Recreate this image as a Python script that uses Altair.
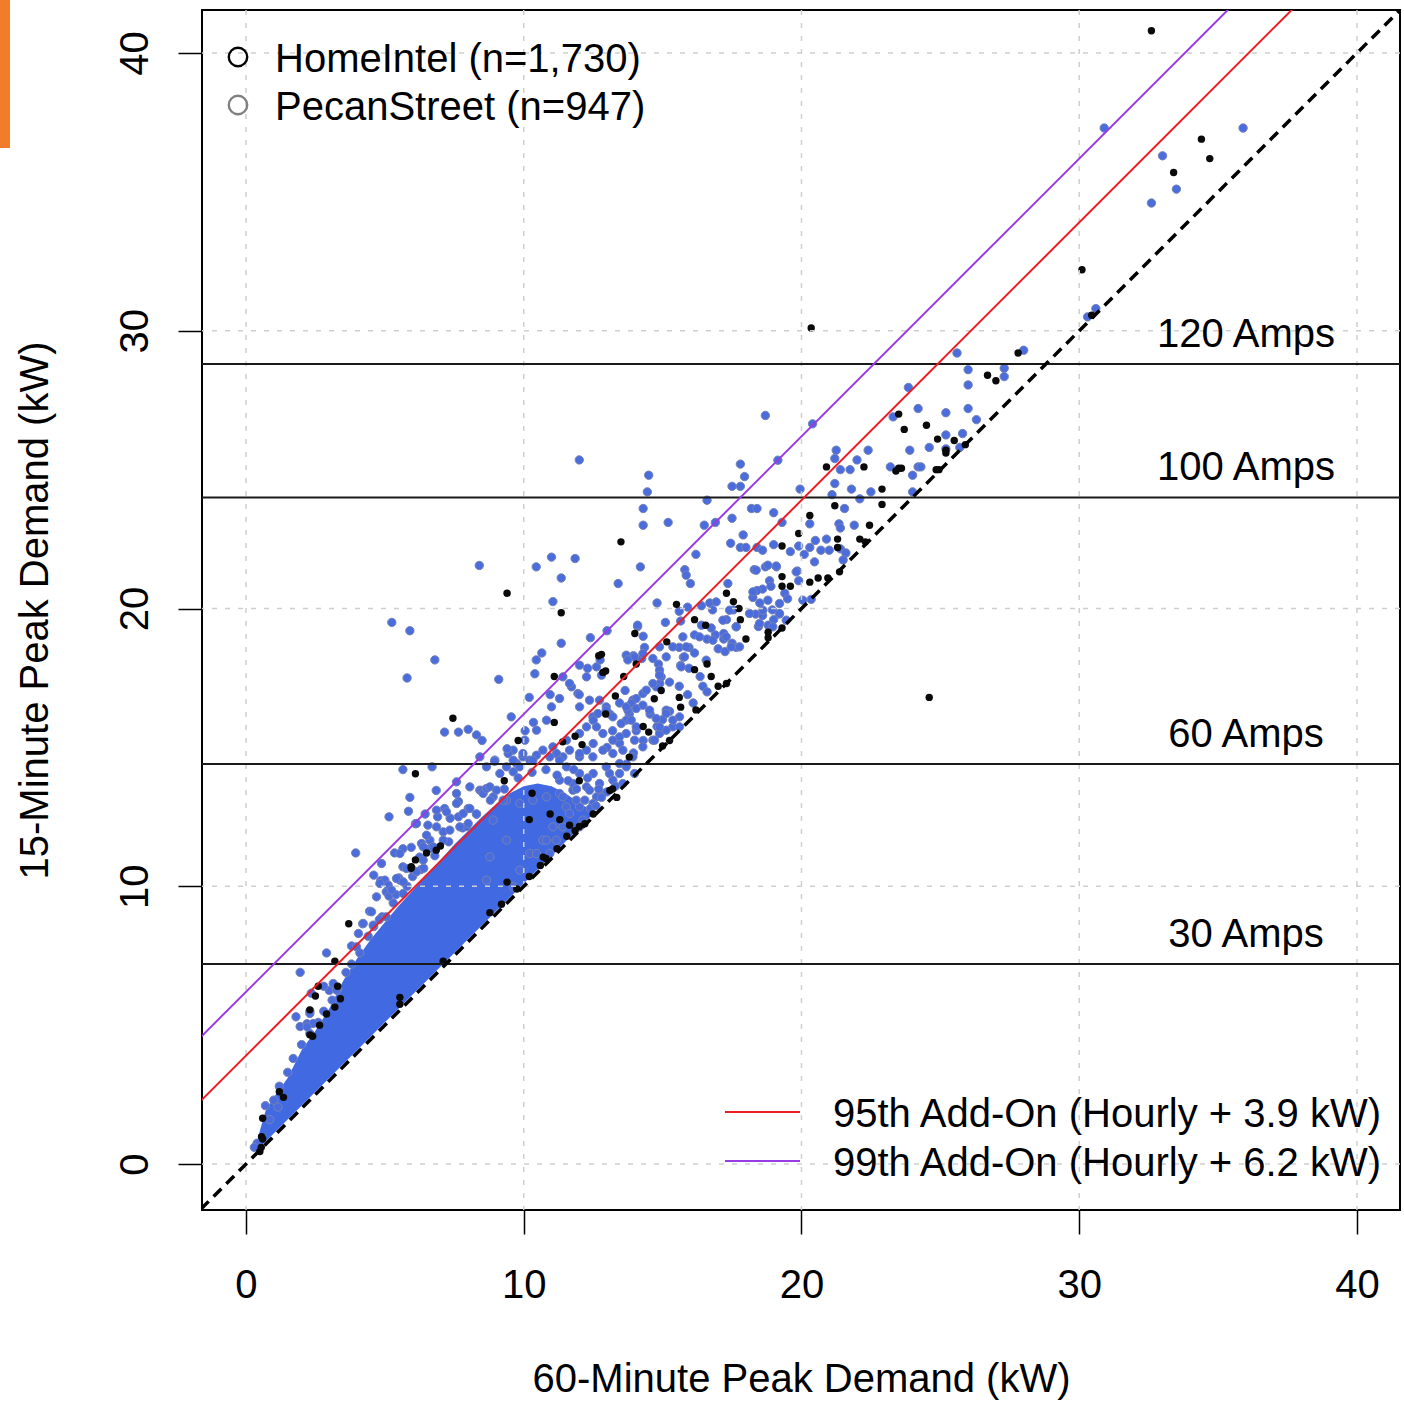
import altair as alt
import pandas as pd

# ---------------- data ----------------
x_ticks = [0, 10, 20, 30, 40]
y_ticks = [0, 10, 20, 30, 40]

amp_ratings = [30, 60, 100, 120]
amp_labels = ["30 Amps", "60 Amps", "100 Amps", "120 Amps"]
volts = 240

add_on_offsets = [0.0, 3.9, 6.2]
line_x_ends = [-3.0, 45.0]

legend_points = ["HomeIntel (n=1,730)", "PecanStreet (n=947)"]
legend_point_colors = ["#000000", "#808080"]
legend_lines = ["95th Add-On (Hourly + 3.9 kW)", "99th Add-On (Hourly + 6.2 kW)"]
legend_line_colors = ["#ee1c25", "#9a3be4"]

# dense core of the point cloud (solid blue band): x, upper edge, lower edge
core_x = [0.35, 0.5, 0.7, 1.0, 1.5, 2.0, 2.5, 3.0, 3.5, 4.0, 4.5, 5.0, 5.5, 6.0, 6.5,
          7.0, 7.5, 8.0, 8.5, 9.0, 9.5, 10.0, 10.5, 11.0, 11.5, 12.0, 12.5]
core_hi = [0.55, 1.2, 1.9, 2.4, 3.1, 4.1, 4.8, 5.6, 6.6, 7.4, 8.1, 8.7, 9.3, 9.85, 10.4,
           10.95, 11.5, 12.0, 12.5, 12.95, 13.35, 13.6, 13.7, 13.6, 13.35, 13.0, 12.7]
core_lo = [0.45, 0.6, 0.8, 1.1, 1.6, 2.1, 2.6, 3.1, 3.6, 4.1, 4.6, 5.1, 5.6, 6.1, 6.6,
           7.1, 7.6, 8.1, 8.6, 9.1, 9.6, 10.1, 10.6, 11.1, 11.6, 12.1, 12.6]

# PecanStreet-coloured (blue) points, (60-min kW, 15-min kW)
pecan_upper = [(30.9, 37.3), (35.9, 37.3), (33.0, 36.3), (33.5, 35.1), (32.6, 34.6), (30.3, 30.5),
               (30.6, 30.8), (25.6, 29.2), (28.0, 29.3), (26.0, 28.6), (27.3, 28.65), (27.3, 28.35),
               (26.0, 28.05), (23.85, 27.96), (24.2, 27.2), (25.2, 27.05), (26.0, 27.2), (26.3, 26.8),
               (25.2, 26.25), (25.8, 26.3), (25.2, 25.75), (25.7, 25.8), (23.9, 25.7), (24.6, 25.8),
               (24.2, 25.1), (24.0, 24.8), (23.3, 26.9), (23.2, 25.1), (24.0, 24.2), (24.3, 25.1),
               (20.4, 26.65), (19.15, 25.34), (18.7, 26.95)]
pecan_mid = [(14.5, 24.8), (14.45, 24.2), (14.3, 23.6), (14.3, 23.0), (15.2, 23.1), (14.2, 21.5),
             (13.4, 20.9), (17.8, 25.2), (17.95, 24.75), (17.5, 24.4), (17.8, 24.4), (16.6, 23.9),
             (16.5, 23.0), (16.9, 23.1), (17.5, 23.25), (18.2, 23.6), (18.4, 23.6), (19.0, 23.45),
             (19.3, 23.1), (17.9, 22.65), (19.95, 24.3), (16.2, 21.95), (15.8, 21.4), (15.85, 21.2),
             (16.0, 20.9), (14.8, 20.2), (17.45, 22.35), (17.8, 22.2), (18.0, 22.2), (18.4, 22.2),
             (18.6, 22.1), (19.0, 22.3), (19.6, 22.05), (19.9, 22.25), (20.1, 21.95), (20.3, 22.2),
             (20.5, 22.45), (20.9, 22.5), (20.7, 22.1), (21.0, 22.1), (21.4, 22.15), (20.3, 23.05),
             (21.25, 25.7), (21.2, 25.4), (22.0, 25.35), (21.75, 25.0), (21.4, 25.0), (22.4, 25.7),
             (21.2, 24.5), (21.8, 24.3), (21.1, 24.1), (22.5, 24.2), (22.1, 23.95), (21.55, 23.6),
             (21.35, 23.05), (21.4, 22.9), (21.9, 23.0), (21.6, 22.0), (21.5, 21.75), (20.35, 20.33)]
pecan_band = [(18.3, 21.4), (18.7, 21.5), (19.1, 21.5), (19.85, 21.35), (19.9, 21.0), (18.85, 21.0),
              (18.6, 20.7), (18.4, 20.65), (18.25, 20.4), (18.9, 20.8), (19.4, 20.55), (19.5, 20.35),
              (17.35, 20.9), (18.5, 20.2), (18.35, 19.8), (18.6, 19.75), (18.95, 19.95), (19.2, 19.8),
              (19.0, 19.6), (18.8, 19.4), (18.45, 19.35), (17.55, 19.95), (17.65, 19.35), (17.3, 19.6),
              (17.2, 19.1), (17.5, 18.75), (17.65, 18.6), (16.7, 20.2), (16.4, 20.1), (16.8, 19.95),
              (15.1, 19.5), (15.65, 19.55), (15.6, 19.9), (15.9, 20.05), (16.4, 19.4), (16.75, 19.3),
              (16.15, 19.05), (16.6, 18.9), (16.9, 19.05), (17.2, 18.9), (17.0, 18.55), (17.25, 18.45),
              (14.1, 19.35), (14.3, 19.0), (14.35, 18.6), (13.95, 18.3), (14.25, 18.2), (14.85, 18.0),
              (14.9, 17.6), (15.6, 18.6), (15.75, 18.25), (15.65, 17.95), (15.95, 18.6), (16.15, 18.4),
              (15.95, 17.85), (16.35, 17.55), (16.45, 17.2), (16.6, 17.0), (14.9, 17.3), (15.25, 17.35),
              (15.6, 17.2), (15.9, 16.9), (16.1, 16.6), (15.25, 16.3), (15.0, 16.0), (14.55, 16.2),
              (14.8, 15.75), (13.95, 16.7), (13.65, 17.05), (13.45, 16.6), (13.1, 16.2), (13.2, 15.6),
              (13.8, 16.2), (14.05, 15.6), (13.45, 15.15), (13.95, 14.8), (13.0, 15.0), (14.3, 15.25),
              (13.7, 14.4)]
pecan_band2 = [(18.37, 21.38), (18.79, 21.56), (19.09, 21.53), (19.81, 21.32), (20.47, 21.68),
               (18.25, 20.6), (18.79, 20.3), (19.21, 20.18), (18.61, 19.94), (18.13, 19.82), (18.49, 19.46),
               (18.97, 19.34), (19.21, 19.82), (19.45, 19.58), (20.05, 20.3), (16.93, 20.24), (17.17, 19.58),
               (17.41, 19.94), (17.29, 18.98), (17.47, 18.62), (17.77, 18.62), (17.65, 19.34), (16.81, 18.86),
               (16.57, 18.14), (16.33, 18.98), (15.73, 18.98), (15.85, 18.62), (15.37, 18.62), (15.79, 18.26),
               (15.67, 17.9), (14.89, 17.78), (14.77, 17.18), (14.95, 17.54), (14.29, 16.94), (13.93, 16.7),
               (13.75, 16.34), (13.69, 15.98), (13.21, 16.1), (12.97, 16.46), (12.73, 16.7), (12.49, 16.1),
               (12.26, 15.74), (12.01, 15.5), (15.13, 16.34), (15.61, 16.1), (15.37, 15.74), (14.89, 15.5),
               (14.65, 15.26), (14.29, 15.02), (13.93, 14.66), (13.45, 14.42), (13.09, 14.06), (12.49, 14.66)]
pecan_band3 = [(13.69, 18.32), (13.99, 18.26), (14.29, 18.38), (14.65, 18.2), (14.89, 18.62), (15.13, 18.26),
               (14.89, 17.6), (14.65, 17.3), (14.41, 17.06), (14.05, 16.76), (13.87, 16.58), (13.69, 16.46),
               (14.05, 16.4), (14.29, 16.52), (14.53, 16.34), (14.77, 16.04), (15.13, 16.22), (15.37, 15.98),
               (15.61, 15.74), (15.13, 15.62), (14.89, 15.74), (14.71, 15.26), (13.99, 15.26), (13.69, 15.5),
               (13.45, 15.38), (13.21, 15.26), (12.85, 15.5), (12.62, 15.74), (12.5, 15.98), (12.67, 16.22),
               (12.97, 16.34), (13.51, 15.86), (13.87, 15.98), (14.05, 15.74), (13.57, 14.9), (13.21, 14.78),
               (12.85, 14.9), (12.5, 15.14), (12.26, 14.9), (12.01, 14.66), (11.65, 14.9), (11.41, 14.66),
               (11.18, 14.78), (10.94, 14.66), (10.69, 14.9), (10.46, 14.72), (10.22, 14.54), (9.97, 14.66),
               (9.74, 14.42), (9.62, 14.12), (12.01, 16.46), (12.37, 16.7), (11.72, 17.18), (11.95, 16.94),
               (12.26, 17.54), (12.62, 17.9), (12.01, 17.96), (11.41, 17.54), (11.29, 16.76), (11.0, 16.46),
               (10.82, 15.98), (10.46, 15.62), (10.04, 15.26), (9.62, 14.9), (9.44, 14.78), (8.96, 14.54),
               (8.66, 14.3), (8.42, 13.46), (8.9, 13.22), (9.38, 13.1), (9.86, 12.98), (10.33, 13.1),
               (10.82, 13.22), (11.29, 13.34), (11.77, 13.46), (12.26, 13.58), (12.73, 13.7), (13.21, 13.82),
               (12.62, 13.22), (12.01, 12.86), (11.53, 12.86), (11.05, 12.14), (10.69, 11.66), (10.22, 11.18),
               (9.86, 10.58), (9.62, 9.98), (8.9, 12.38), (9.38, 11.66), (8.78, 11.06), (8.66, 10.22)]
pecan_band4 = [(11.54, 14.3), (12.01, 14.06), (12.5, 14.06), (12.97, 14.3), (13.45, 14.06), (11.29, 13.82),
               (11.77, 13.7), (12.37, 13.46), (12.85, 13.34), (13.57, 13.7), (11.41, 13.22), (11.89, 13.1),
               (12.5, 12.98), (11.65, 12.62), (12.13, 12.38), (11.41, 12.14), (11.17, 11.66), (10.94, 11.18),
               (13.69, 14.3), (13.99, 14.06), (12.01, 12.14), (10.82, 11.66), (10.46, 11.18)]
# points sitting on the ragged edge of the dense core
pecan_edge = [(1.5, 3.3), (2.0, 4.3), (2.6, 5.1), (3.1, 5.9), (3.6, 6.9), (4.1, 7.6), (4.4, 8.2),
              (4.9, 8.9), (5.3, 9.4), (5.8, 10.0), (6.3, 10.6), (6.8, 11.1), (7.3, 11.6), (7.8, 12.1),
              (8.3, 12.6), (8.8, 13.1), (9.3, 13.5), (9.8, 13.9), (10.3, 14.1), (10.8, 14.2),
              (11.2, 14.0), (11.6, 13.8), (11.9, 13.5), (12.2, 13.1), (12.4, 12.8), (12.6, 12.9),
              (12.8, 13.2), (11.8, 14.2), (12.3, 13.9), (12.7, 13.5), (13.0, 13.4), (13.3, 13.6),
              (1.2, 2.8), (1.7, 3.8), (2.3, 4.7), (2.8, 5.5), (3.3, 6.3), (3.8, 7.2)]
pecan_left = [(12.0, 25.35), (8.4, 21.55), (10.45, 21.5), (11.0, 21.85), (11.85, 21.8), (11.35, 21.1),
              (11.05, 20.25), (5.25, 19.5), (5.9, 19.2), (6.8, 18.15), (5.8, 17.5), (9.1, 17.45),
              (11.35, 18.75), (10.65, 18.4), (10.45, 18.15), (10.4, 17.65), (10.2, 16.8), (10.95, 16.9),
              (9.55, 16.1), (7.15, 15.55), (7.65, 15.55), (8.0, 15.65), (8.3, 15.45), (12.4, 18.95),
              (13.0, 19.2), (11.65, 17.3), (12.0, 16.9), (12.3, 17.85), (12.75, 18.15), (12.8, 17.6),
              (13.75, 18.15), (14.1, 19.4), (10.35, 15.9), (10.05, 15.6), (9.4, 14.95), (8.95, 14.5),
              (8.5, 13.45), (8.0, 12.8), (7.65, 12.5), (7.15, 12.8), (5.9, 13.2), (5.65, 14.2),
              (5.15, 12.5), (6.1, 12.25), (6.45, 12.6), (6.85, 13.45), (8.5, 15.25)]
pecan_low = [(5.85, 12.7), (6.7, 14.3), (6.55, 12.2), (7.65, 13.05), (8.3, 12.6), (6.9, 12.5),
             (7.35, 12.45), (7.95, 12.15), (3.95, 11.2), (4.6, 10.4), (4.85, 10.2), (5.05, 9.8),
             (5.15, 9.65), (5.4, 9.7), (5.65, 10.7), (5.35, 11.2), (5.65, 11.35), (5.95, 11.4),
             (6.25, 11.05), (6.4, 10.65), (5.5, 10.3), (6.0, 10.35), (4.45, 9.1), (4.05, 8.3),
             (4.6, 8.55), (5.05, 8.9), (4.8, 8.8), (3.8, 7.85), (2.9, 7.6), (4.2, 8.65), (1.95, 6.9),
             (3.0, 6.25), (2.8, 6.4), (2.35, 6.15), (2.3, 5.5), (1.8, 5.3), (1.95, 4.95), (2.2, 5.05),
             (0.7, 2.1), (0.85, 1.6), (0.4, 0.75), (0.3, 0.6), (1.15, 2.05), (1.0, 2.3)]
pecan_redline = [(6.62, 11.66), (7.1, 11.96), (7.82, 12.62), (8.54, 13.34), (8.66, 13.52), (9.14, 14.06),
                 (9.38, 14.3), (7.58, 12.98), (8.06, 12.8), (7.22, 12.68), (6.86, 12.14), (6.5, 11.84),
                 (6.32, 11.54), (4.7, 9.62), (6.62, 11.36), (5.0, 10.22), (5.54, 10.22), (6.02, 10.58),
                 (6.38, 11.42), (6.74, 11.42), (7.1, 11.66), (6.38, 10.94), (7.34, 12.02), (7.7, 12.14),
                 (8.0, 12.26), (7.58, 13.34), (8.06, 13.58), (8.78, 13.58), (9.02, 13.46), (9.26, 13.1),
                 (9.62, 14.54), (9.97, 14.78), (9.85, 14.3), (10.33, 14.54), (11.05, 15.02), (11.29, 14.54),
                 (11.54, 15.26), (12.01, 14.78), (5.66, 9.74), (8.42, 14.66), (7.58, 13.76), (6.86, 12.74),
                 (6.14, 12.26), (5.12, 10.04), (4.52, 9.08), (4.82, 10.1), (5.24, 9.86), (5.42, 10.28),
                 (5.78, 10.64), (5.66, 10.16), (6.14, 10.52), (4.22, 8.66), (3.98, 7.82), (4.58, 8.6),
                 (4.88, 10.82), (5.54, 11.18), (3.14, 6.5), (3.26, 6.26), (2.3, 5.42), (2.42, 5.06),
                 (2.2, 4.94)]

# HomeIntel (black) points
homeintel_upper = [(32.6, 40.8), (34.4, 36.9), (34.7, 36.2), (33.4, 35.7), (30.1, 32.2), (30.45, 30.56),
                   (27.8, 29.2), (26.7, 28.4), (27.0, 28.2), (23.5, 27.0), (24.5, 26.6), (23.7, 26.45),
                   (24.9, 26.1), (25.5, 26.05), (25.2, 25.6), (25.9, 25.9), (24.85, 25.0), (23.5, 25.05),
                   (20.35, 30.1), (24.6, 16.8), (13.5, 22.4), (19.3, 22.25), (19.9, 22.7), (20.3, 23.35),
                   (20.9, 25.1), (22.25, 25.1), (21.2, 23.7), (21.3, 22.5), (21.3, 22.2), (22.9, 24.3),
                   (22.9, 23.75), (22.45, 23.0), (22.1, 22.5), (22.3, 22.4), (23.4, 24.95), (23.6, 25.05),
                   (24.95, 25.0), (25.2, 25.7), (21.37, 21.32)]
homeintel_mid = [(19.3, 20.8), (19.6, 20.8), (20.3, 20.95), (20.6, 21.1), (20.95, 21.1), (17.3, 20.55),
                 (17.55, 20.25), (17.75, 20.0), (17.8, 19.6), (18.0, 18.9), (18.8, 18.95), (18.8, 19.15),
                 (19.3, 19.3), (15.5, 20.15), (16.15, 19.6), (16.55, 19.4), (14.0, 19.1), (15.15, 18.8),
                 (16.15, 17.8), (16.6, 18.0), (16.75, 17.55), (17.0, 17.2), (17.3, 17.3), (14.7, 16.75),
                 (15.6, 16.8), (16.2, 16.35), (14.3, 15.75), (15.25, 15.25), (14.5, 15.55), (12.7, 18.3),
                 (12.85, 17.7), (13.6, 17.55), (13.3, 16.85), (9.4, 20.55), (11.35, 19.85), (11.1, 17.55),
                 (7.45, 16.05), (11.1, 15.9), (12.8, 18.35), (12.95, 17.75), (14.05, 18.0), (19.3, 21.15),
                 (15.65, 16.45), (12.95, 16.2), (12.1, 15.1), (12.0, 13.8), (13.1, 13.45), (14.95, 17.05),
                 (15.0, 15.05), (13.8, 14.65), (13.35, 13.2), (13.2, 13.5), (11.85, 15.4), (11.4, 15.2)]
homeintel_low = [(6.1, 14.05), (9.8, 15.25), (9.3, 13.8), (6.5, 11.2), (5.95, 10.7), (7.0, 11.45),
                 (10.3, 13.35), (11.3, 12.4), (11.65, 12.2), (12.0, 12.15), (10.7, 11.05), (9.4, 10.15),
                 (10.95, 12.6), (10.2, 12.4), (12.5, 12.6), (12.2, 12.25), (11.85, 12.0), (11.55, 11.8),
                 (11.2, 11.35), (10.8, 11.0), (10.6, 10.75), (10.2, 10.35), (9.75, 9.9), (9.2, 9.35),
                 (3.7, 8.65), (3.2, 7.3), (5.95, 10.65), (6.1, 10.95), (6.85, 11.3), (2.6, 6.4),
                 (2.5, 6.05), (2.3, 5.55), (2.65, 5.0), (2.3, 4.65), (2.4, 4.6), (3.4, 5.95), (3.2, 5.65),
                 (0.5, 0.45), (0.55, 0.6), (0.6, 0.9), (0.6, 1.65), (1.2, 2.6), (1.35, 2.4), (2.9, 5.4),
                 (3.3, 6.4), (5.54, 5.75), (0.56, 0.98), (7.1, 7.3), (8.78, 9.05), (5.54, 6.0)]

# ---------------- tables ----------------
def pts_df(*groups):
    rows = [p for g in groups for p in g]
    return pd.DataFrame({"x": [r[0] for r in rows], "y": [r[1] for r in rows]})

pecan_df = pts_df(pecan_upper, pecan_mid, pecan_band, pecan_band2, pecan_band3, pecan_band4,
                  pecan_edge, pecan_left, pecan_low, pecan_redline)
home_df = pts_df(homeintel_upper, homeintel_mid, homeintel_low)
core_df = pd.DataFrame({"x": core_x, "hi": core_hi, "lo": core_lo})
amp_df = pd.DataFrame({"amps": amp_ratings, "label": amp_labels,
                       "kw": [a * volts / 1000 for a in amp_ratings]})

def diag_df(off):
    return pd.DataFrame({"x": line_x_ends, "y": [v + off for v in line_x_ends]})

# ---------------- scales / axes ----------------
FONT = "Liberation Sans"
XS = alt.Scale(domain=[-1.584, 41.55], nice=False, zero=False)
YS = alt.Scale(domain=[-1.656, 41.55], nice=False, zero=False)

xaxis = alt.Axis(values=x_ticks, grid=False, domain=False, ticks=True, tickSize=24, tickWidth=1.5,
                 tickColor="black", labelFontSize=40, labelFont=FONT, labelColor="black",
                 labelBaseline="alphabetic", labelPadding=63, labelFlush=False, labelOverlap=False,
                 labelBound=False, format="d", title="60-Minute Peak Demand (kW)", titleFont=FONT,
                 titleFontSize=40, titleFontWeight="normal", titleColor="black", titleX=599, titleY=181,
                 titleAlign="center", titleBaseline="alphabetic")
yaxis = alt.Axis(values=y_ticks, grid=False, domain=False, ticks=True, tickSize=24, tickWidth=1.5,
                 tickColor="black", labelFontSize=40, labelFont=FONT, labelColor="black", labelAngle=270,
                 labelAlign="center", labelBaseline="alphabetic", labelPadding=31, labelFlush=False,
                 labelOverlap=False, labelBound=False, format="d", title="15-Minute Peak Demand (kW)",
                 titleFont=FONT, titleFontSize=40, titleFontWeight="normal", titleColor="black",
                 titleAngle=270, titleX=-155, titleY=600, titleAlign="center", titleBaseline="alphabetic")

def X(f):
    return alt.X(f, type="quantitative", scale=XS, axis=xaxis)

def Y(f):
    return alt.Y(f, type="quantitative", scale=YS, axis=yaxis)

BLUE = "#4169e1"

core = alt.Chart(core_df).mark_area(color=BLUE, opacity=1, interpolate="linear").encode(
    x=X("x"), y=Y("hi"), y2=alt.Y2("lo"))
blue = alt.Chart(pecan_df).mark_circle(size=70, fill="#4a6cdc", stroke="#7482b8", strokeWidth=1,
                                       opacity=1, fillOpacity=1).encode(x=X("x"), y=Y("y"))
black = alt.Chart(home_df).mark_circle(size=55, color="#0a0a0a", opacity=1).encode(x=X("x"), y=Y("y"))

grid_x = alt.Chart(pd.DataFrame({"v": x_ticks})).mark_rule(
    color="#cfcfcf", strokeDash=[5, 8], strokeWidth=1.5).encode(x=X("v"))
grid_y = alt.Chart(pd.DataFrame({"v": y_ticks})).mark_rule(
    color="#cfcfcf", strokeDash=[5, 8], strokeWidth=1.5).encode(y=Y("v"))

amp_lines = alt.Chart(amp_df).mark_rule(color="#1a1a1a", strokeWidth=2).encode(y=Y("kw"))
amp_text = alt.Chart(amp_df).mark_text(font=FONT, fontSize=40, align="center", baseline="alphabetic",
                                       dy=-17, color="black").encode(
    x=alt.value(1044), y=Y("kw"), text="label:N")

diag_styles = [dict(color="black", strokeWidth=3.5, strokeDash=[11, 7]),
               dict(color=legend_line_colors[0], strokeWidth=2),
               dict(color=legend_line_colors[1], strokeWidth=2)]
diag_layers = [alt.Chart(diag_df(off)).mark_line(clip=True, **sty).encode(x=X("x"), y=Y("y"))
               for off, sty in zip(add_on_offsets, diag_styles)]

legend_layers = []
for i, (lab, col) in enumerate(zip(legend_points, legend_point_colors)):
    d = pd.DataFrame({"label": [lab]})
    legend_layers.append(alt.Chart(d).mark_point(shape="circle", filled=False, size=340, strokeWidth=2.4,
                                                 color=col, opacity=1).encode(
        x=alt.value(36), y=alt.value(47 + 48 * i)))
    legend_layers.append(alt.Chart(d).mark_text(font=FONT, fontSize=40, align="left",
                                                baseline="alphabetic", color="black").encode(
        x=alt.value(73), y=alt.value(62 + 48 * i), text="label:N"))
for i, (lab, col) in enumerate(zip(legend_lines, legend_line_colors)):
    d = pd.DataFrame({"label": [lab]})
    legend_layers.append(alt.Chart(d).mark_rule(color=col, strokeWidth=2).encode(
        x=alt.value(523), x2=alt.value(598), y=alt.value(1102 + 49 * i)))
    legend_layers.append(alt.Chart(d).mark_text(font=FONT, fontSize=40, align="left",
                                                baseline="alphabetic", color="black").encode(
        x=alt.value(631), y=alt.value(1117 + 49 * i), text="label:N"))

orange = alt.Chart(pd.DataFrame({"k": [0]})).mark_rect(color="#f07c2c", clip=False).encode(
    x=alt.value(-202), x2=alt.value(-192), y=alt.value(-10), y2=alt.value(138))

chart = alt.layer(core, blue, black, grid_x, grid_y, amp_lines, *diag_layers, amp_text,
                  *legend_layers, orange).properties(
    width=1198, height=1200,
    padding={"left": 202, "top": 10, "right": 4, "bottom": 192},
    autosize=alt.AutoSizeParams(type="none"),
    background="white",
).configure_view(stroke="black", strokeWidth=2)

chart.save("out.html", embed_options={"renderer": "svg", "actions": False})
